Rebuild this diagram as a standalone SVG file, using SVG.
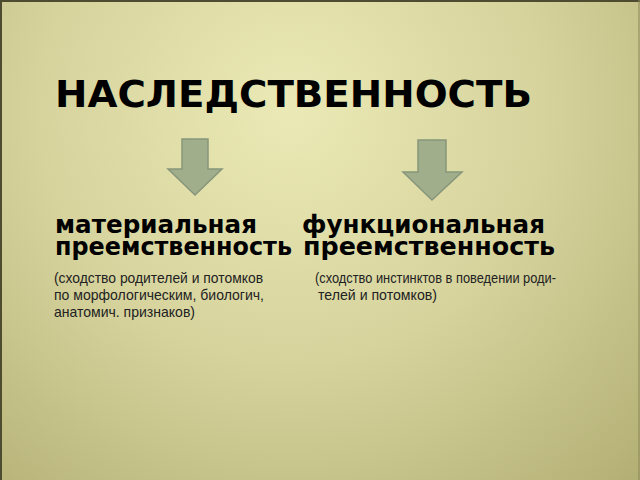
<svg xmlns="http://www.w3.org/2000/svg" width="640" height="480" viewBox="0 0 640 480">
  <defs>
    <radialGradient id="bg" cx="290" cy="110" r="560" gradientUnits="userSpaceOnUse">
      <stop offset="0" stop-color="#ebe9b5"/>
      <stop offset="0.45" stop-color="#d6d39d"/>
      <stop offset="1" stop-color="#aca86c"/>
    </radialGradient>
  </defs>
  <style>
    .arrow { fill: #a1ae8c; stroke: #87967a; stroke-width: 1.5; stroke-linejoin: miter; }
    .title { font-family: "DejaVu Sans", sans-serif; font-weight: bold; font-size: 37px; fill: #000; }
    .head { font-family: "DejaVu Sans", sans-serif; font-weight: bold; font-size: 24.5px; fill: #000; }
    .note { font-family: "Liberation Sans", Arial, sans-serif; font-size: 15px; fill: #222; }
  </style>
  <rect x="0" y="0" width="640" height="480" fill="url(#bg)"/>
  <path d="M0 1 H640 M1 0 V480" stroke="#4e4c30" stroke-width="2" fill="none"/>
  <path d="M639 0 V480" stroke="#8a8758" stroke-width="1" fill="none"/>

  <g id="title">
    <text class="title" x="55" y="107" textLength="477" lengthAdjust="spacingAndGlyphs">НАСЛЕДСТВЕННОСТЬ</text>
  </g>

  <g id="connectors">
    <polygon class="arrow" points="182,139 208,139 208,169 222,169 195,195 168,169 182,169"/>
    <polygon class="arrow" points="418,140 446,140 446,172 462,172 432,200 403,172 418,172"/>
  </g>

  <g id="material">
    <text class="head" x="55" y="233" textLength="202" lengthAdjust="spacingAndGlyphs">материальная</text>
    <text class="head" x="55" y="255" textLength="237" lengthAdjust="spacingAndGlyphs">преемственность</text>
    <text class="note" x="54" y="283" textLength="209" lengthAdjust="spacingAndGlyphs">(сходство родителей и потомков</text>
    <text class="note" x="54" y="300" textLength="210" lengthAdjust="spacingAndGlyphs">по морфологическим, биологич,</text>
    <text class="note" x="54" y="317" textLength="141" lengthAdjust="spacingAndGlyphs">анатомич. признаков)</text>
  </g>

  <g id="functional">
    <text class="head" x="302" y="233" textLength="243" lengthAdjust="spacingAndGlyphs">функциональная</text>
    <text class="head" x="303" y="255" textLength="252" lengthAdjust="spacingAndGlyphs">преемственность</text>
    <text class="note" x="315" y="283" textLength="241" lengthAdjust="spacingAndGlyphs">(сходство инстинктов в поведении роди-</text>
    <text class="note" x="318" y="300" textLength="119" lengthAdjust="spacingAndGlyphs">телей и потомков)</text>
  </g>
</svg>
